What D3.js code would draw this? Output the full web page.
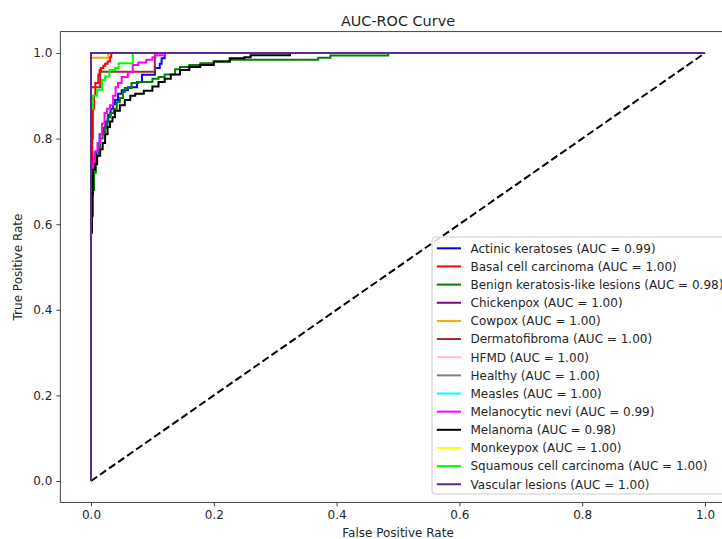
<!DOCTYPE html>
<html>
<head>
<meta charset="utf-8">
<script src="https://cdn.jsdelivr.net/npm/d3@7"></script>
<style>
  html, body { margin: 0; padding: 0; background: #fff; }
  svg { display: block; font-family: "DejaVu Sans", sans-serif; }
</style>
</head>
<body>
<div id="chart"></div>
<script>
// ---------------- data ----------------
const classNames = [
  "Actinic keratoses", "Basal cell carcinoma", "Benign keratosis-like lesions",
  "Chickenpox", "Cowpox", "Dermatofibroma", "HFMD", "Healthy", "Measles",
  "Melanocytic nevi", "Melanoma", "Monkeypox", "Squamous cell carcinoma", "Vascular lesions"
];
const aucValues = [0.99, 1.00, 0.98, 1.00, 1.00, 1.00, 1.00, 1.00, 1.00, 0.99, 0.98, 1.00, 1.00, 1.00];
const lineColors = ["blue", "red", "green", "purple", "orange", "brown", "pink", "gray",
  "cyan", "magenta", "black", "yellow", "lime", "#5a2b96"];

const fprActinic = [0,0,0.002,0.002,0.004,0.006,0.008,0.011,0.014,0.02,0.024,0.028,0.032,0.036,0.039,0.039,0.044,0.044,0.05,0.05,0.06,0.06,0.075,0.083,0.083,0.088,0.104,0.104,0.112,0.115,0.12,0.125,1];
const tprActinic = [0,0.55,0.62,0.7,0.72,0.745,0.76,0.77,0.79,0.81,0.825,0.84,0.855,0.87,0.88,0.89,0.89,0.897,0.905,0.913,0.913,0.92,0.92,0.932,0.945,0.949,0.949,0.953,0.965,0.975,0.988,1,1];

const fprBasal = [0,0,0.001,0.002,0.003,0.005,0.007,0.007,0.012,0.014,0.016,0.02,0.023,0.027,0.031,0.033,0.036,1];
const tprBasal = [0,0.5,0.6,0.75,0.8,0.87,0.9,0.92,0.93,0.95,0.96,0.965,0.97,0.975,0.98,0.99,1,1];

const fprBenign = [0,0,0.003,0.005,0.008,0.012,0.015,0.019,0.023,0.027,0.031,0.037,0.042,0.047,0.052,0.055,0.066,0.077,0.1,0.11,0.12,0.137,0.145,0.16,0.178,0.2,0.226,0.245,0.37,0.37,0.39,0.39,0.484,0.49,1];
const tprBenign = [0,0.5,0.62,0.68,0.72,0.76,0.78,0.8,0.815,0.83,0.85,0.86,0.87,0.885,0.895,0.909,0.918,0.93,0.932,0.94,0.944,0.95,0.962,0.967,0.972,0.976,0.98,0.984,0.984,0.989,0.989,0.994,0.994,1,1];

const fprPerfect = [0, 0, 1];
const tprPerfect = [0, 1, 1];

const fprCowpox = [0,0,0.028,0.03,1];
const tprCowpox = [0,0.989,0.989,1,1];

const fprDermato = [0,0,0.015,0.015,0.104,0.104,1];
const tprDermato = [0,0.92,0.92,0.956,0.956,1,1];

const fprNevi = [0,0,0.002,0.004,0.006,0.011,0.015,0.018,0.022,0.026,0.031,0.036,0.04,0.044,0.05,0.06,0.068,0.077,0.09,0.1,0.105,0.12,0.134,1];
const tprNevi = [0,0.6,0.7,0.73,0.745,0.77,0.79,0.81,0.835,0.86,0.87,0.878,0.9,0.92,0.93,0.944,0.955,0.972,0.978,0.984,0.99,0.995,1,1];

const fprMelanoma = [0,0,0.0016,0.002,0.003,0.0065,0.01,0.015,0.019,0.023,0.027,0.031,0.035,0.039,0.047,0.055,0.064,0.072,0.086,0.1,0.11,0.12,0.13,0.145,0.16,0.178,0.2,0.226,0.25,0.26,0.324,0.34,1];
const tprMelanoma = [0,0.45,0.58,0.62,0.67,0.727,0.74,0.76,0.775,0.79,0.81,0.827,0.84,0.85,0.865,0.878,0.89,0.9,0.905,0.912,0.922,0.932,0.94,0.95,0.96,0.967,0.972,0.98,0.988,0.99,0.995,1,1];

const fprSquamous = [0,0,0.003,0.003,0.01,0.018,0.023,0.03,0.039,0.045,0.052,0.068,0.068,1];
const tprSquamous = [0,0.87,0.87,0.895,0.9,0.914,0.937,0.945,0.96,0.965,0.976,0.976,1,1];

const fprSeries = [fprActinic, fprBasal, fprBenign, fprPerfect, fprCowpox, fprDermato, fprPerfect,
  fprPerfect, fprPerfect, fprNevi, fprMelanoma, fprPerfect, fprSquamous, fprPerfect];
const tprSeries = [tprActinic, tprBasal, tprBenign, tprPerfect, tprCowpox, tprDermato, tprPerfect,
  tprPerfect, tprPerfect, tprNevi, tprMelanoma, tprPerfect, tprSquamous, tprPerfect];

const tickValues = [0, 0.2, 0.4, 0.6, 0.8, 1.0];
const diagonal = [[0, 0], [1, 1]];

// ---------------- drawing ----------------
const W = 722, H = 539;
const svg = d3.select("#chart").append("svg").attr("width", W).attr("height", H);

const x = d3.scaleLinear().domain([-0.05, 1.05]).range([60.3, 735.7]);
const y = d3.scaleLinear().domain([-0.05, 1.05]).range([502.4, 31.6]);

const textColor = "#262626";

// axes
const xAxis = svg.append("g").attr("transform", `translate(0,${y(-0.05)})`)
  .call(d3.axisBottom(x).tickValues(tickValues).tickFormat(d3.format(".1f")).tickSize(4).tickPadding(4));
const yAxis = svg.append("g").attr("transform", `translate(${x(-0.05)},0)`)
  .call(d3.axisLeft(y).tickValues(tickValues).tickFormat(d3.format(".1f")).tickSize(4).tickPadding(4));
[xAxis, yAxis].forEach(g => {
  g.select(".domain").remove();
  g.selectAll("text").attr("font-size", 12).attr("fill", textColor).attr("font-family", "DejaVu Sans");
  g.selectAll("line").attr("stroke", "#333").attr("stroke-width", 0.9);
});

// diagonal
const line = d3.line().x(d => x(d[0])).y(d => y(d[1]));
svg.append("path").datum(diagonal).attr("d", line)
  .attr("fill", "none").attr("stroke", "black").attr("stroke-width", 2)
  .attr("stroke-dasharray", "7.5,3.5");

// curves (ROC staircases)
const stepLine = d3.line().x(d => x(d[0])).y(d => y(d[1])).curve(d3.curveStepBefore);
classNames.forEach((name, i) => {
  const pts = fprSeries[i].map((f, j) => [f, tprSeries[i][j]]);
  svg.append("path").datum(pts).attr("d", stepLine)
    .attr("fill", "none").attr("stroke", lineColors[i]).attr("stroke-width", 2)
    .attr("stroke-linejoin", "miter");
});

// frame
svg.append("rect")
  .attr("x", x(-0.05)).attr("y", y(1.05))
  .attr("width", x(1.05) - x(-0.05)).attr("height", y(-0.05) - y(1.05))
  .attr("fill", "none").attr("stroke", "#333").attr("stroke-width", 0.9);

// title & labels
svg.append("text").attr("x", (x(-0.05) + x(1.05)) / 2).attr("y", 26)
  .attr("text-anchor", "middle").attr("font-size", 14.4).attr("fill", textColor)
  .text("AUC-ROC Curve");
svg.append("text").attr("x", (x(-0.05) + x(1.05)) / 2).attr("y", 537)
  .attr("text-anchor", "middle").attr("font-size", 12).attr("fill", textColor)
  .text("False Positive Rate");
svg.append("text").attr("transform", `translate(22,${(y(-0.05) + y(1.05)) / 2}) rotate(-90)`)
  .attr("text-anchor", "middle").attr("font-size", 12).attr("fill", textColor)
  .text("True Positive Rate");

// legend
const lg = svg.append("g");
const lgX = 432, lgY = 237, rowH = 18.15, firstRow = 248.3;
lg.append("rect").attr("x", lgX).attr("y", lgY).attr("width", 297).attr("height", 257)
  .attr("rx", 3).attr("fill", "white").attr("fill-opacity", 0.85)
  .attr("stroke", "#cccccc").attr("stroke-width", 1);
classNames.forEach((name, i) => {
  const cy = firstRow + i * rowH;
  lg.append("line").attr("x1", lgX + 4.8).attr("x2", lgX + 29).attr("y1", cy).attr("y2", cy)
    .attr("stroke", lineColors[i]).attr("stroke-width", 2);
  lg.append("text").attr("x", lgX + 38.5).attr("y", cy).attr("dy", "0.36em")
    .attr("font-size", 12).attr("fill", textColor)
    .text(`${name} (AUC = ${aucValues[i].toFixed(2)})`);
});
</script>
</body>
</html>
